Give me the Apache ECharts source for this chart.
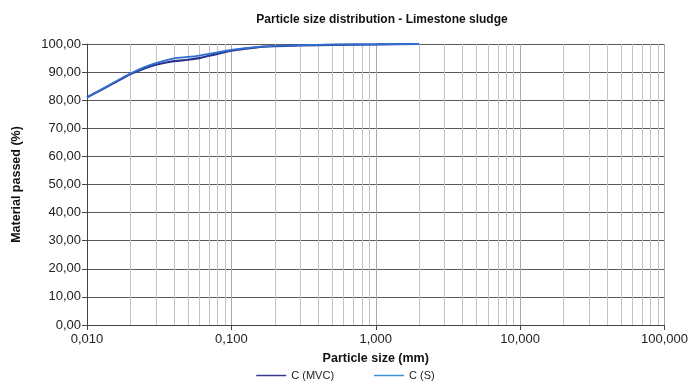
<!DOCTYPE html>
<html>
<head>
<meta charset="utf-8">
<script src="https://cdn.jsdelivr.net/npm/echarts@6/dist/echarts.min.js"></script>
<style>
  html, body { margin: 0; padding: 0; background: #fff; }
  #chart { width: 691px; height: 384px; }
</style>
</head>
<body>
<div id="chart"></div>
<script>
// particle size (mm)
const sizes = [0.01, 0.015, 0.02, 0.025, 0.03, 0.04, 0.05, 0.06, 0.07, 0.08, 0.1, 0.15, 0.2, 0.3, 0.5, 1, 2];
// material passed (%)
const passedMVC = [81.0, 85.8, 89.3, 91.3, 92.6, 93.9, 94.4, 95.0, 95.8, 96.5, 97.6, 98.8, 99.2, 99.5, 99.7, 99.85, 100];
const passedS   = [81.0, 86.0, 89.5, 91.8, 93.2, 94.9, 95.4, 95.9, 96.5, 97.0, 97.9, 98.9, 99.3, 99.6, 99.8, 99.9, 100];
const seriesNames = ['C (MVC)', 'C (S)'];

// minor vertical grid lines 2..9 in each decade
const minorGrid = [];
[0.01, 0.1, 1, 10].forEach(function (d) {
  for (let k = 2; k <= 9; k++) minorGrid.push(+(d * k).toPrecision(3));
});

const font = 'Liberation Sans, Arial, sans-serif';
const comma = (v, n) => v.toFixed(n).replace('.', ',');

const chart = echarts.init(document.getElementById('chart'));
chart.setOption({
  animation: false,
  title: {
    text: 'Particle size distribution - Limestone sludge',
    left: 377,
    textAlign: 'center',
    top: 9,
    textStyle: { fontFamily: font, fontSize: 12, fontWeight: 'bold', color: '#111' }
  },
  legend: {
    top: 370,
    left: 'center',
    padding: 0,
    itemWidth: 30,
    itemHeight: 8,
    itemGap: 40,
    icon: 'path://M0,4 L30,4 L30,5.5 L0,5.5 Z',
    textStyle: { fontFamily: font, fontSize: 11, color: '#222' },
    data: seriesNames
  },
  grid: { left: 87, right: 24, top: 44, bottom: 59 },
  xAxis: {
    type: 'log',
    logBase: 10,
    min: 0.01,
    max: 100,
    name: 'Particle size (mm)',
    nameLocation: 'middle',
    nameGap: 27,
    nameTextStyle: { fontFamily: font, fontSize: 12.5, fontWeight: 'bold', color: '#111' },
    axisLine: { lineStyle: { color: '#444' } },
    axisTick: { show: true, length: 5, lineStyle: { color: '#444' } },
    axisLabel: {
      fontFamily: font, fontSize: 13, color: '#222', margin: 8,
      formatter: v => comma(v, 3)
    },
    splitLine: { show: true, lineStyle: { color: '#aaa' } }
  },
  yAxis: {
    type: 'value',
    min: 0,
    max: 100,
    interval: 10,
    name: 'Material passed (%)',
    nameLocation: 'middle',
    nameGap: 64,
    nameTextStyle: { fontFamily: font, fontSize: 12.5, fontWeight: 'bold', color: '#111' },
    axisLine: { show: true, lineStyle: { color: '#444' } },
    axisTick: { show: true, length: 5, lineStyle: { color: '#444' } },
    axisLabel: {
      fontFamily: font, fontSize: 13, color: '#222', margin: 6,
      formatter: v => comma(v, 2)
    },
    splitLine: { show: true, lineStyle: { color: '#5a5a5a' } }
  },
  series: [
    {
      name: seriesNames[0],
      type: 'line',
      smooth: 0.3,
      symbol: 'none',
      z: 3,
      lineStyle: { width: 2.2, color: '#2a3590' },
      itemStyle: { color: '#3a3890' },
      data: sizes.map((s, i) => [s, passedMVC[i]]),
      markLine: {
        silent: true,
        symbol: 'none',
        label: { show: false },
        lineStyle: { color: '#c4c4c4', width: 1, type: 'solid' },
        z: 1,
        data: minorGrid.map(v => ({ xAxis: v }))
      }
    },
    {
      name: seriesNames[1],
      type: 'line',
      smooth: 0.3,
      symbol: 'none',
      z: 4,
      lineStyle: { width: 1.8, color: '#2f6fd0' },
      itemStyle: { color: '#3d93e0' },
      data: sizes.map((s, i) => [s, passedS[i]])
    }
  ]
});
</script>
</body>
</html>
